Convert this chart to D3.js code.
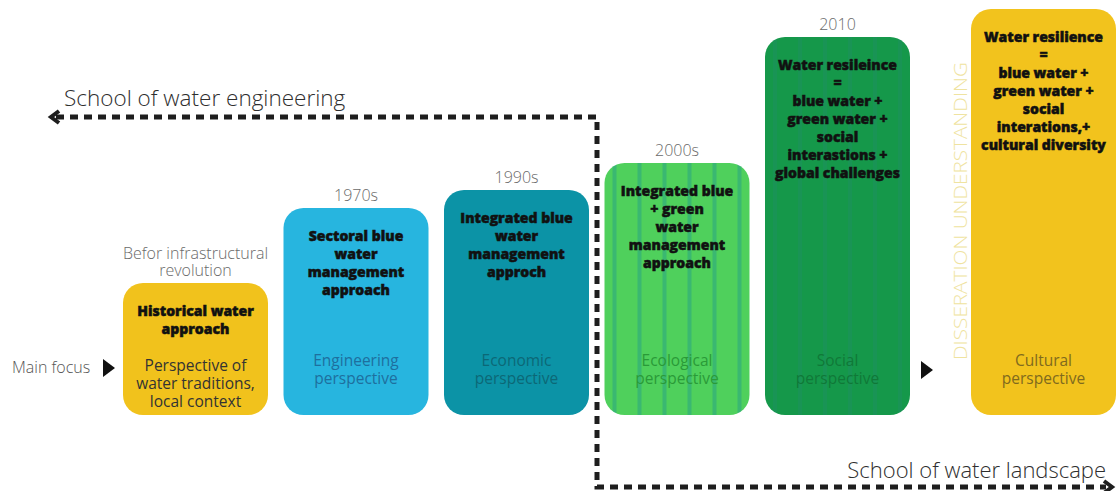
<!DOCTYPE html>
<html>
<head>
<meta charset="utf-8">
<script src="https://cdn.jsdelivr.net/npm/d3@7"></script>
<style>
  body { margin: 0; background: #fff; }
  .light { font-family: "Open Sans", "Lato", sans-serif; font-weight: 300; }
  .sub { font-family: "Open Sans", "Lato", sans-serif; font-weight: 400; }
  .heavy { font-family: "Open Sans", "Lato", sans-serif; font-weight: 800; }
</style>
</head>
<body>
<div id="chart"></div>
<script>
// stages of the water management timeline
var stages = ["historical", "sectoral", "integratedBlue", "integratedGreen", "resilience", "cultural"];
var periods = [["Befor infrastructural", "revolution"], ["1970s"], ["1990s"], ["2000s"], ["2010"], []];
var headings = [
  ["Historical water", "approach"],
  ["Sectoral blue", "water", "management", "approach"],
  ["Integrated blue", "water", "management", "approch"],
  ["Integrated blue", "+ green", "water", "management", "approach"],
  ["Water resileince", "=", "blue water +", "green water +", "social", "interastions +", "global challenges"],
  ["Water resilience", "=", "blue water +", "green water +", "social", "interations,+", "cultural diversity"]
];
var perspectives = [
  ["Perspective of", "water traditions,", "local context"],
  ["Engineering", "perspective"],
  ["Economic", "perspective"],
  ["Ecological", "perspective"],
  ["Social", "perspective"],
  ["Cultural", "perspective"]
];
// box height (how far each stage reaches up)
var levels = [132, 207, 225, 252, 378, 406];
var fills = ["#f1c21c", "#27b5df", "#0c93a6", "#4fd05c", "#15984a", "#f2c31d"];
var stripes = [null, null, null, "#36b474", "#1d8f5e", null];
var subColors = ["#333333", "#1e6f9e", "#0c6876", "#2a9a38", "#107838", "#806a1e"];

var W = 1120, H = 491, base = 415, boxW = 145;

var svg = d3.select("#chart").append("svg").attr("width", W).attr("height", H);

// first five stages share a regular step, the last one sits past the divider
var x = d3.scaleLinear().domain([0, 4]).range([123, 765]);
var xPos = function(i){ return i < 5 ? x(i) : x(4) + 206; };
var y = d3.scaleLinear().domain([0, 406]).range([base, base - 406]);

var defs = svg.append("defs");
stripes.forEach(function(c, i){
  if(!c) return;
  var p = defs.append("pattern").attr("id", "stripe" + i)
    .attr("patternUnits", "userSpaceOnUse").attr("width", 25).attr("height", 10)
    .attr("x", xPos(i) + 8);
  p.append("rect").attr("width", 25).attr("height", 10).attr("fill", fills[i]);
  p.append("rect").attr("x", 0).attr("width", 4).attr("height", 10).attr("fill", c).attr("opacity", i === 4 ? 0.55 : 0.85);
});

var g = svg.selectAll("g.stage").data(stages).enter().append("g").attr("class", "stage");

g.append("rect")
  .attr("x", function(d, i){ return xPos(i); })
  .attr("y", function(d, i){ return y(levels[i]); })
  .attr("width", boxW)
  .attr("height", function(d, i){ return base - y(levels[i]); })
  .attr("rx", 20).attr("ry", 20)
  .attr("fill", function(d, i){ return stripes[i] ? "url(#stripe" + i + ")" : fills[i]; });

// multi-line text as one element with tspans
function lines(sel, arr, cx, y0, dy){
  var t = sel.append("text").attr("text-anchor", "middle");
  arr.forEach(function(s, k){
    t.append("tspan").attr("x", cx).attr("y", y0 + k * dy).text(s);
  });
  return t;
}

g.each(function(d, i){
  var cx = xPos(i) + boxW / 2, top = y(levels[i]);
  var sel = d3.select(this);
  var pl = periods[i];
  if(pl.length){
    lines(sel, pl, cx, top - 7 - (pl.length - 1) * 17, 17)
      .attr("class", "light").attr("font-size", 16).attr("fill", "#6a6a6a");
  }
  lines(sel, headings[i], cx, top + 33, 18)
    .attr("class", "heavy").attr("font-size", 14).attr("fill", "#111")
    .attr("stroke", "#111").attr("stroke-width", 0.5);
  var pp = perspectives[i];
  lines(sel, pp, cx, pp.length === 3 ? 371 : 366, 18)
    .attr("class", "sub").attr("font-size", 15.5).attr("fill", subColors[i]);
});

// main focus marker
svg.append("text").attr("class", "light").attr("x", 12).attr("y", 373)
  .attr("font-size", 16).attr("fill", "#555").text("Main focus");
var tri = function(cx, cy){
  return "M" + (cx - 6) + "," + (cy - 9) + "L" + (cx + 6) + "," + cy + "L" + (cx - 6) + "," + (cy + 9) + "Z";
};
svg.append("path").attr("d", tri(109, 368)).attr("fill", "#111");
svg.append("path").attr("d", tri(927, 370)).attr("fill", "#111");

// divider text
svg.append("text").attr("class", "light")
  .attr("transform", "translate(967,360) rotate(-90)")
  .attr("font-size", 19).attr("fill", "#efe3a0")
  .attr("textLength", 298).attr("lengthAdjust", "spacingAndGlyphs")
  .text("DISSERATION UNDERSTANDING");

// schools: dashed route
var route = d3.line()([[56, 117], [597, 117], [597, 487], [1106, 487]]);
svg.append("path").attr("d", route).attr("fill", "none")
  .attr("stroke", "#1e1e1e").attr("stroke-width", 5).attr("stroke-dasharray", "8,6");
svg.append("path").attr("d", "M59,111L51,117L59,123").attr("fill", "none")
  .attr("stroke", "#1e1e1e").attr("stroke-width", 4);
svg.append("path").attr("d", "M1104,481L1112,487L1104,493").attr("fill", "none")
  .attr("stroke", "#1e1e1e").attr("stroke-width", 4);

svg.append("text").attr("class", "light").attr("x", 64).attr("y", 106)
  .attr("font-size", 22.5).attr("fill", "#2e2e2e").attr("font-weight", 400)
  .text("School of water engineering");
svg.append("text").attr("class", "light").attr("x", 1106).attr("y", 478)
  .attr("text-anchor", "end").attr("font-size", 22).attr("fill", "#2e2e2e").attr("font-weight", 400)
  .text("School of water landscape");
</script>
</body>
</html>
